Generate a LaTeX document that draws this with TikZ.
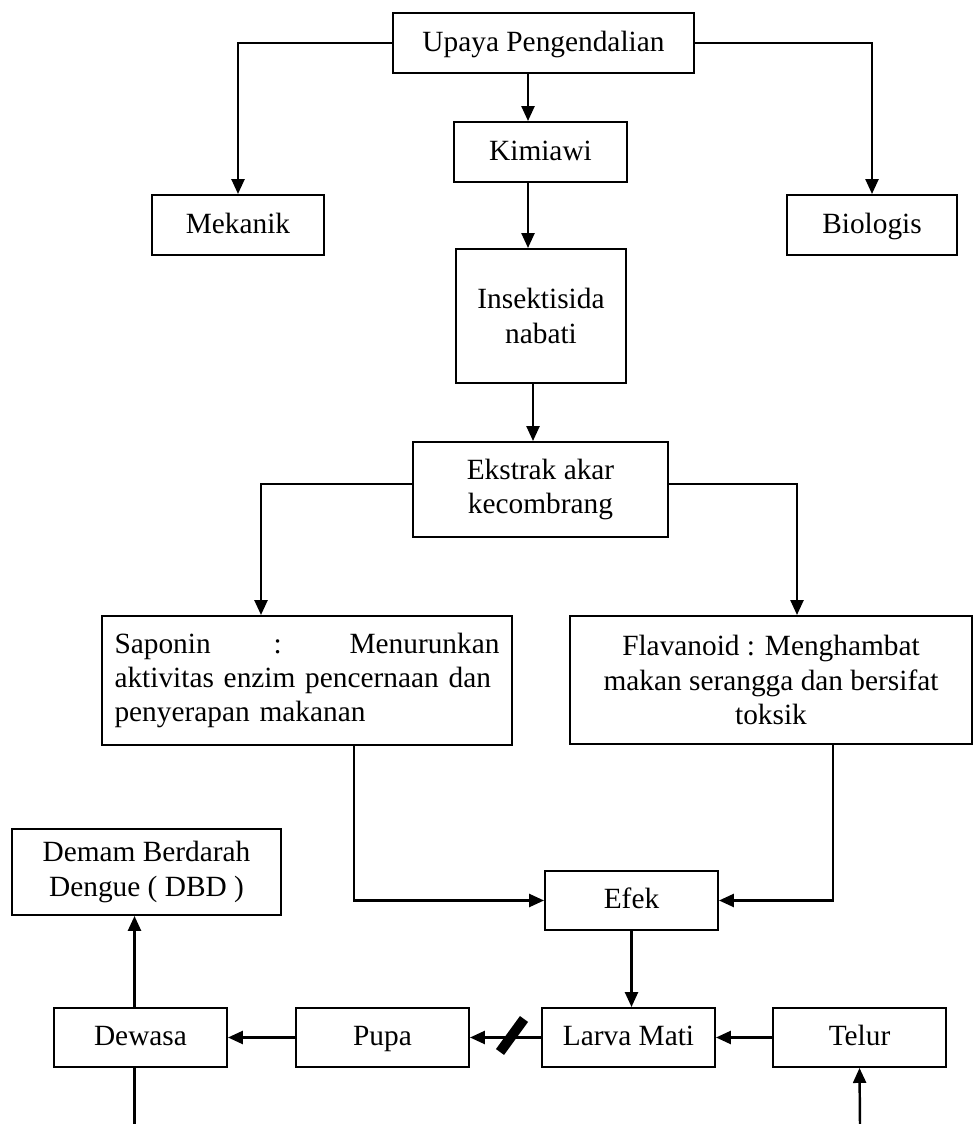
\documentclass[tikz,border=0pt]{standalone}
\usepackage{fontspec}
\setmainfont{Liberation Serif}
\usetikzlibrary{arrows.meta}
\tikzset{
  box/.style={draw, line width=1.1pt, inner sep=0pt, align=center, font=\fontsize{16.7pt}{19.6pt}\selectfont},
  single/.style={box, text height=12pt, text depth=2.5pt, minimum width=3.46cm, minimum height=1.18cm},
  arr/.style={line width=1.4pt, -{Triangle[length=0.3cm,width=0.26cm]}},
  line/.style={line width=1.2pt},
}

\begin{document}
\begin{tikzpicture}
        \useasboundingbox (0,0) rectangle (19.46,22.48);
        % kotak
        \node[single,minimum width=6.02cm,minimum height=1.2cm] (upaya) at (10.87,21.62) {Upaya Pengendalian};
        \node[single,minimum height=1.2cm] (kimia) at (10.81,19.44) {Kimiawi};
        \node[single,minimum width=3.44cm,minimum height=1.2cm] (mekanik) at (4.76,17.98) {Mekanik};
        \node[single,minimum width=3.4cm,minimum height=1.2cm] (biologi) at (17.44,17.98) {Biologis};
        \node[box,minimum width=3.4cm,minimum height=2.68cm] (insek) at (10.82,16.16) {Insektisida\\nabati};
        \node[box,minimum width=5.1cm,minimum height=1.9cm] (ekstrak) at (10.81,12.69) {Ekstrak akar\\kecombrang};
        \node[box,minimum width=8.2cm,minimum height=2.58cm,text width=7.7cm,align=left] (saponin) at (6.14,8.87) {Saponin \hfill : \hfill Menurunkan\\aktivitas enzim pencernaan dan\\penyerapan makanan};
        \node[box,minimum width=8.04cm,minimum height=2.56cm] (flavo) at (15.42,8.88) {Flavanoid : Menghambat\\makan serangga dan bersifat\\toksik};
        \node[box,minimum width=5.38cm,minimum height=1.72cm] (dbd) at (2.93,5.04) {Demam Berdarah\\Dengue ( DBD )};
        \node[single] (efek) at (12.63,4.47) {Efek};
        \node[single] (dewasa) at (2.81,1.73) {Dewasa};
        \node[single] (pupa) at (7.65,1.73) {Pupa};
        \node[single] (larva) at (12.57,1.73) {Larva Mati};
        \node[single] (telur) at (17.19,1.73) {Telur};
        \coordinate (dewbot) at (2.69,0);
        \coordinate (telbot) at (17.2,0);
        % panah
        \draw[arr] (upaya.west) -| (mekanik.north);
        \draw[arr] (upaya.east) -| (biologi.north);
        \draw[arr] ([xshift=-0.31cm]upaya.south) -- ([xshift=-0.31cm]upaya.south |- kimia.north);
        \draw[arr] ([xshift=-0.25cm]kimia.south) -- ([xshift=-0.25cm]kimia.south |- insek.north);
        \draw[arr] ([xshift=-0.16cm]insek.south) -- ([xshift=-0.16cm]insek.south |- ekstrak.north);
        \draw[arr] ([yshift=0.11cm]ekstrak.west) -| ([xshift=-0.92cm]saponin.north);
        \draw[arr] ([yshift=0.11cm]ekstrak.east) -| ([xshift=0.52cm]flavo.north);
        \draw[arr] ([xshift=0.94cm]saponin.south) |- (efek.west);
        \draw[arr] ([xshift=1.24cm]flavo.south) |- (efek.east);
        \draw[arr] (efek.south) -- (efek.south |- larva.north);
        \draw[arr] (telur.west) -- (larva.east);
        \draw[arr] (larva.west) -- (pupa.east);
        \draw[arr] (pupa.west) -- (dewasa.east);
        \draw[arr] ([xshift=-0.12cm]dewasa.north) -- ([xshift=-0.12cm]dewasa.north |- dbd.south);
        \draw[line] ([xshift=-0.12cm]dewasa.south) -- (dewbot);
        \draw[arr] (telbot) -- (telur.south);
        \draw[line width=0.2cm] (10.48,2.1) -- (10.0,1.44);
\end{tikzpicture}
\end{document}
